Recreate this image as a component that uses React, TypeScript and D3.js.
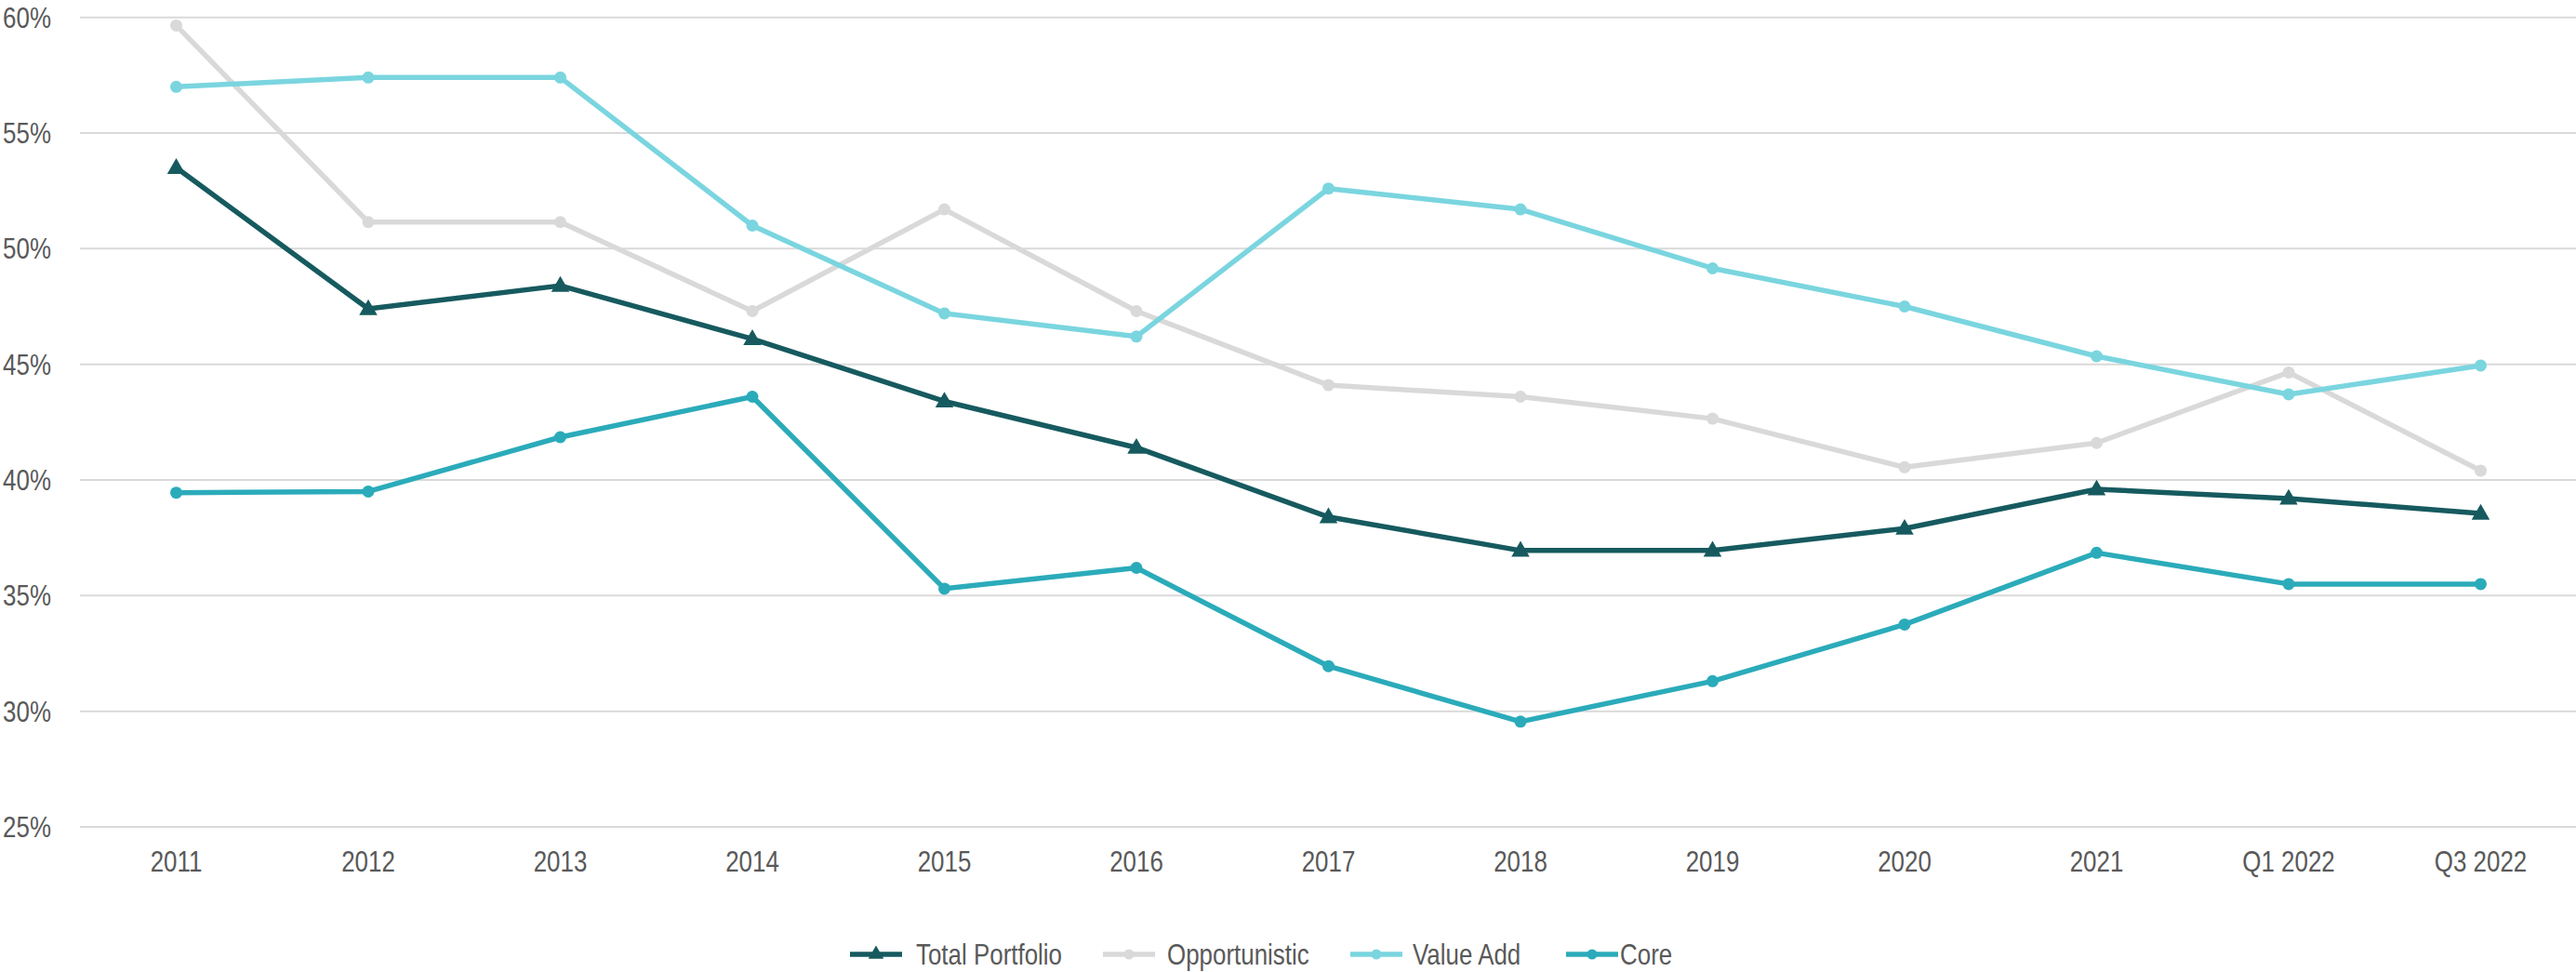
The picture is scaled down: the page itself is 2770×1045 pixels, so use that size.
import React from "react";
import * as d3 from "d3";

const categories = ["2011","2012","2013","2014","2015","2016","2017","2018","2019","2020","2021","Q1 2022","Q3 2022"];
const totalPortfolio = [53.5, 47.4, 48.4, 46.1, 43.4, 41.4, 38.4, 36.95, 36.95, 37.9, 39.6, 39.2, 38.55];
const opportunistic = [59.65, 51.15, 51.15, 47.3, 51.7, 47.3, 44.1, 43.6, 42.65, 40.55, 41.6, 44.65, 40.4];
const valueAdd = [57.0, 57.4, 57.4, 51.0, 47.2, 46.2, 52.6, 51.7, 49.15, 47.5, 45.35, 43.7, 44.95];
const core = [39.45, 39.5, 41.85, 43.6, 35.3, 36.2, 31.95, 29.55, 31.3, 33.75, 36.85, 35.5, 35.5];
const yTicks = [25, 30, 35, 40, 45, 50, 55, 60];

const seriesNames = ["Total Portfolio", "Opportunistic", "Value Add", "Core"];
const seriesValues = [totalPortfolio, opportunistic, valueAdd, core];
const seriesColors = ["#165A5F", "#D9D9D9", "#7AD5DF", "#2BABBA"];
const seriesMarkers = ["triangle", "circle", "circle", "circle"];

const W = 2770;
const H = 1045;
const FONT = "'Liberation Sans', Arial, sans-serif";
const TEXT = "#595959";
const SX = 0.85;

function T(props: { x: number; y: number; anchor?: string; children: React.ReactNode; dy?: string }) {
  return (
    <text
      transform={`translate(${props.x},${props.y}) scale(${SX},1)`}
      dy={props.dy}
      textAnchor={props.anchor || "start"}
      fontFamily={FONT}
      fontSize={30.5}
      fill={TEXT}
    >
      {props.children}
    </text>
  );
}

export default function App() {
  const x = d3.scalePoint<string>().domain(categories).range([86.25, 2770.75]).padding(0.5);
  const y = d3.scaleLinear().domain([25, 60]).range([889, 18.7]);
  const line = d3.line<number>().x((_, i) => x(categories[i]) as number).y((v) => y(v));
  const tri = d3.symbol().type(d3.symbolTriangle).size(165)();
  const triLegend = d3.symbol().type(d3.symbolTriangle).size(120)();

  const legendX = [914, 1186, 1452, 1684];
  const legendTextOff = [71, 69, 67, 58];
  const legendY = 1026;

  return (
    <svg width={W} height={H} style={{ position: "absolute", left: 0, top: 0, background: "#fff" }}>
      {yTicks.map((t) => (
        <g key={t}>
          <line x1={86} x2={W} y1={y(t)} y2={y(t)} stroke="#D9D9D9" strokeWidth={2} />
          <T x={55} y={y(t)} dy="0.36em" anchor="end">{`${t}%`}</T>
        </g>
      ))}
      {categories.map((c) => (
        <T key={c} x={x(c) as number} y={937} anchor="middle">{c}</T>
      ))}
      {seriesValues.map((vals, si) => (
        <g key={seriesNames[si]}>
          <path d={line(vals) || ""} fill="none" stroke={seriesColors[si]} strokeWidth={5.5} strokeLinejoin="round" />
          {vals.map((v, i) =>
            seriesMarkers[si] === "triangle" ? (
              <path key={i} d={tri || ""} transform={`translate(${x(categories[i])},${y(v) + 1})`} fill={seriesColors[si]} />
            ) : (
              <circle key={i} cx={x(categories[i])} cy={y(v)} r={6.5} fill={seriesColors[si]} />
            )
          )}
        </g>
      ))}
      {seriesNames.map((n, si) => (
        <g key={n}>
          <line x1={legendX[si]} x2={legendX[si] + 56} y1={legendY} y2={legendY} stroke={seriesColors[si]} strokeWidth={5.5} />
          {seriesMarkers[si] === "triangle" ? (
            <path d={triLegend || ""} transform={`translate(${legendX[si] + 28},${legendY})`} fill={seriesColors[si]} />
          ) : (
            <circle cx={legendX[si] + 28} cy={legendY} r={5.5} fill={seriesColors[si]} />
          )}
          <T x={legendX[si] + legendTextOff[si]} y={legendY} dy="0.36em">{n}</T>
        </g>
      ))}
    </svg>
  );
}
